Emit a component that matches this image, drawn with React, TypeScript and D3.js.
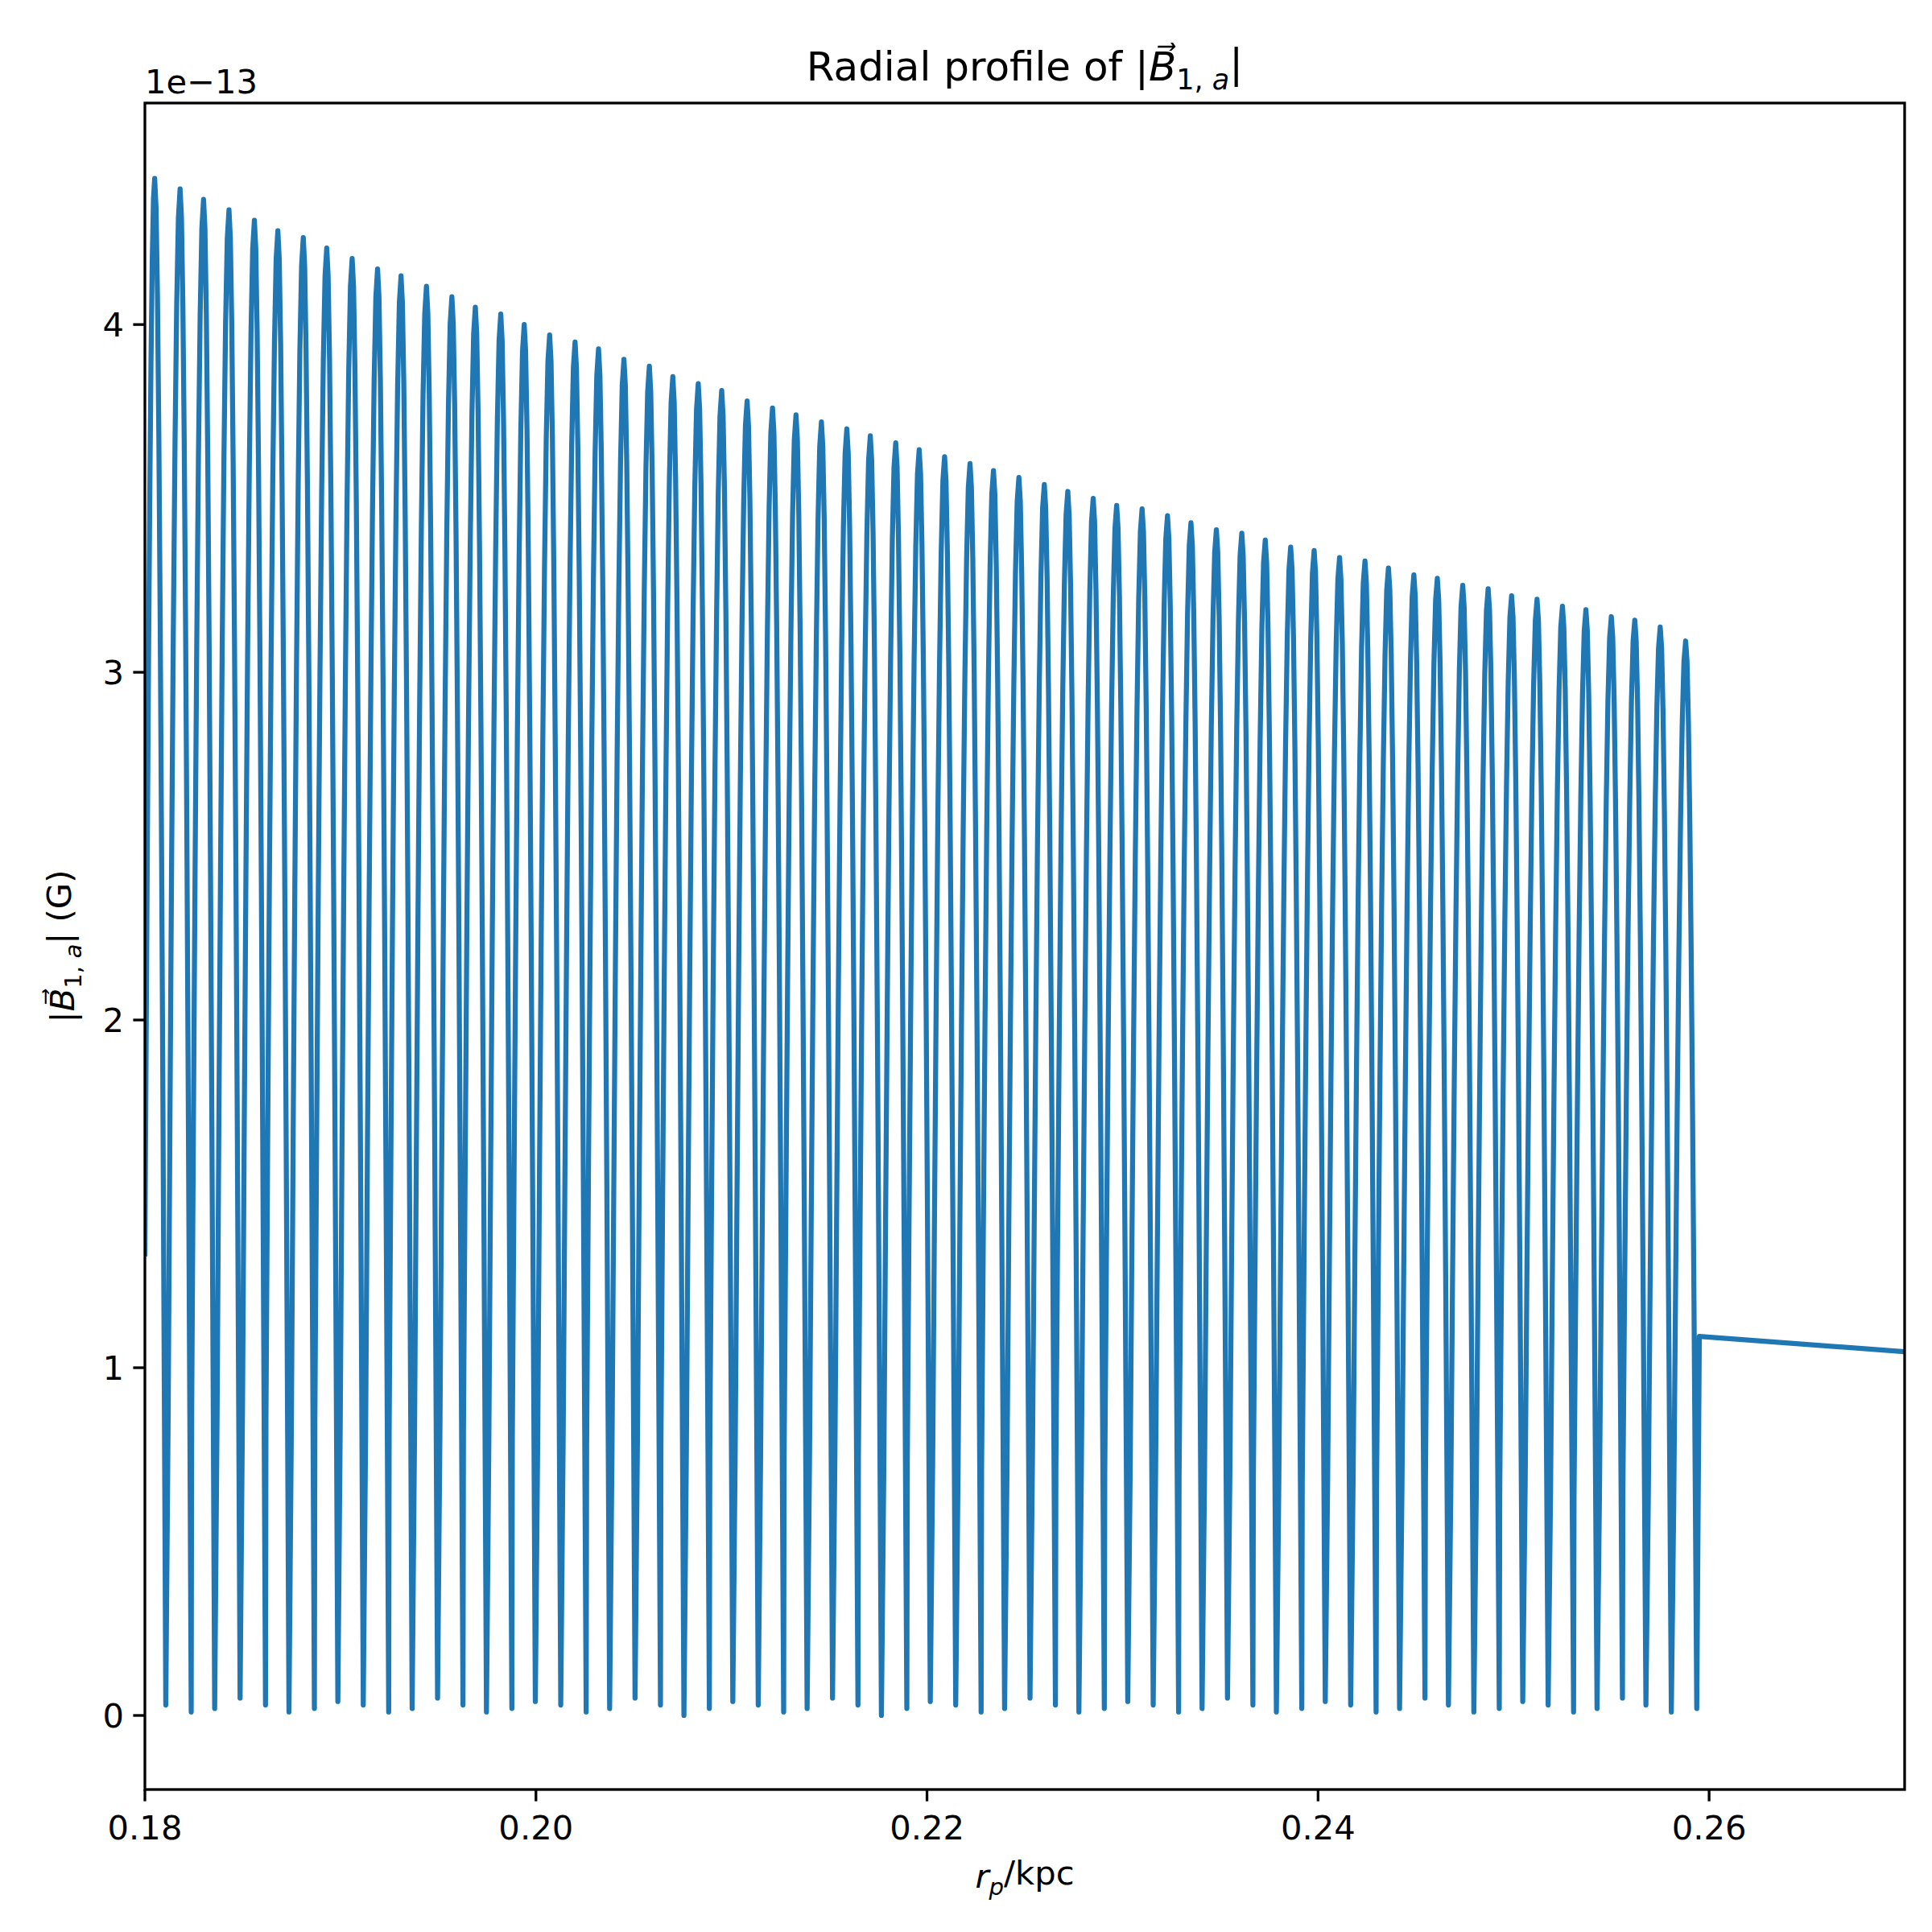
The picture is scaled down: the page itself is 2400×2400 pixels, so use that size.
import * as d3 from "d3";

// peak positions (kpc) and heights (1e-13 G)
const peakR = [
  0.1805, 0.1818, 0.183, 0.1843, 0.1856, 0.1868, 0.1881, 0.1893, 0.1906, 0.1919,
  0.1931, 0.1944, 0.1957, 0.1969, 0.1982, 0.1994, 0.2007, 0.202, 0.2032, 0.2045,
  0.2058, 0.207, 0.2083, 0.2095, 0.2108, 0.2121, 0.2133, 0.2146, 0.2159, 0.2171,
  0.2184, 0.2196, 0.2209, 0.2222, 0.2234, 0.2247, 0.226, 0.2272, 0.2285, 0.2297,
  0.231, 0.2323, 0.2335, 0.2348, 0.2361, 0.2373, 0.2386, 0.2398, 0.2411, 0.2424,
  0.2436, 0.2449, 0.2461, 0.2474, 0.2487, 0.2499, 0.2512, 0.2525, 0.2537, 0.255,
  0.2562, 0.2575, 0.2588,
];
const peakB = [
  4.42, 4.39, 4.36, 4.33, 4.3, 4.27, 4.25, 4.22, 4.19, 4.16,
  4.14, 4.11, 4.08, 4.05, 4.03, 4.0, 3.97, 3.95, 3.93, 3.9,
  3.88, 3.85, 3.83, 3.81, 3.78, 3.76, 3.74, 3.72, 3.7, 3.68,
  3.66, 3.64, 3.62, 3.6, 3.58, 3.56, 3.54, 3.52, 3.5, 3.48,
  3.47, 3.45, 3.43, 3.41, 3.4, 3.38, 3.36, 3.35, 3.33, 3.32,
  3.3, 3.28, 3.27, 3.25, 3.24, 3.22, 3.21, 3.19, 3.18, 3.16,
  3.15, 3.13, 3.09,
];
// trough minima after each peak
const troughB = [
  0.03, 0.01, 0.02, 0.05, 0.03, 0.01, 0.02, 0.04, 0.03, 0.01,
  0.02, 0.05, 0.03, 0.01, 0.02, 0.04, 0.03, 0.01, 0.02, 0.05,
  0.03, 0.0, 0.02, 0.04, 0.03, 0.01, 0.02, 0.05, 0.03, 0.0,
  0.02, 0.04, 0.03, 0.01, 0.02, 0.05, 0.03, 0.01, 0.02, 0.04,
  0.03, 0.01, 0.02, 0.05, 0.03, 0.01, 0.02, 0.04, 0.03, 0.01,
  0.02, 0.05, 0.03, 0.01, 0.02, 0.04, 0.03, 0.01, 0.02, 0.05,
  0.03, 0.01, 0.02,
];
const startPoint: [number, number] = [0.18, 1.32];
const tailPoints: [number, number][] = [
  [0.2595, 1.09],
  [0.27, 1.046],
];

const xTicks = [0.18, 0.2, 0.22, 0.24, 0.26];
const yTicks = [0, 1, 2, 3, 4];

const W = 2400;
const H = 2400;
const M = { left: 180, right: 34, top: 128, bottom: 177 };
const FONT = "DejaVu Sans, sans-serif";
const BLUE = "#1f77b4";

function buildPoints(): [number, number][] {
  const pts: [number, number][] = [startPoint];
  const n = Math.min(peakR.length, peakB.length, troughB.length);
  const period = (peakR[n - 1] - peakR[0]) / (n - 1);
  const steps = 8;
  for (let i = 0; i < n; i++) {
    const r = peakR[i];
    const h = peakB[i];
    const prevR = i === 0 ? startPoint[0] : peakR[i] - period * 0.55;
    const prevB = i === 0 ? startPoint[1] : troughB[i - 1];
    // rising half
    for (let s = 1; s <= steps; s++) {
      const f = s / steps;
      pts.push([prevR + (r - prevR) * f, prevB + (h - prevB) * Math.sin((f * Math.PI) / 2)]);
    }
    const tr = r + period * 0.45;
    const tb = troughB[i];
    for (let s = 1; s <= steps; s++) {
      const f = s / steps;
      pts.push([r + (tr - r) * f, tb + (h - tb) * Math.cos((f * Math.PI) / 2)]);
    }
  }
  return pts.concat(tailPoints);
}

const Bsym = () => (
  <>
    <tspan>|</tspan>
    <tspan fontStyle="italic">B{"\u20D7"}</tspan>
    <tspan fontSize="0.7em" dy="0.3em">
      1, <tspan fontStyle="italic">a</tspan>
    </tspan>
    <tspan dy="-0.3em">|</tspan>
  </>
);

export default function App() {
  const x = d3.scaleLinear().domain([0.18, 0.27]).range([M.left, W - M.right]);
  const y = d3.scaleLinear().domain([-0.213, 4.637]).range([H - M.bottom, M.top]);
  const line = d3
    .line<[number, number]>()
    .x((d) => x(d[0]))
    .y((d) => y(d[1]));
  const path = line(buildPoints())!;
  const bottom = H - M.bottom;

  return (
    <svg
      width={W}
      height={H}
      style={{ position: "absolute", left: 0, top: 0, display: "block", background: "#fff" }}
      fontFamily={FONT}
    >
      <defs>
        <clipPath id="plot">
          <rect x={M.left} y={M.top} width={W - M.left - M.right} height={bottom - M.top} />
        </clipPath>
      </defs>
      <path d={path} fill="none" stroke={BLUE} strokeWidth={6.25} strokeLinejoin="round" clipPath="url(#plot)" />
      <rect
        x={M.left}
        y={M.top}
        width={W - M.left - M.right}
        height={bottom - M.top}
        fill="none"
        stroke="#000"
        strokeWidth={3.3}
      />
      {xTicks.map((t) => (
        <g key={t}>
          <line x1={x(t)} x2={x(t)} y1={bottom} y2={bottom + 14.6} stroke="#000" strokeWidth={3.3} />
          <text x={x(t)} y={bottom + 62} fontSize={41.7} textAnchor="middle">
            {t.toFixed(2)}
          </text>
        </g>
      ))}
      {yTicks.map((t) => (
        <g key={t}>
          <line x1={M.left} x2={M.left - 14.6} y1={y(t)} y2={y(t)} stroke="#000" strokeWidth={3.3} />
          <text x={M.left - 26} y={y(t)} dy="0.35em" fontSize={41.7} textAnchor="end">
            {t}
          </text>
        </g>
      ))}
      <text x={M.left} y={M.top - 12} fontSize={41.7}>
        1e−13
      </text>
      <text x={(M.left + W - M.right) / 2} y={100} fontSize={50} textAnchor="middle">
        Radial profile of <Bsym />
      </text>
      <text x={(M.left + W - M.right) / 2} y={2345} fontSize={41.7} textAnchor="middle">
        <tspan fontStyle="italic">r</tspan>
        <tspan fontSize="0.7em" dy="0.3em" fontStyle="italic">p</tspan>
        <tspan dy="-0.3em">/kpc</tspan>
      </text>
      <text
        transform={`translate(92, ${(M.top + bottom) / 2}) rotate(-90)`}
        fontSize={41.7}
        textAnchor="middle"
      >
        <Bsym /> (G)
      </text>
    </svg>
  );
}
